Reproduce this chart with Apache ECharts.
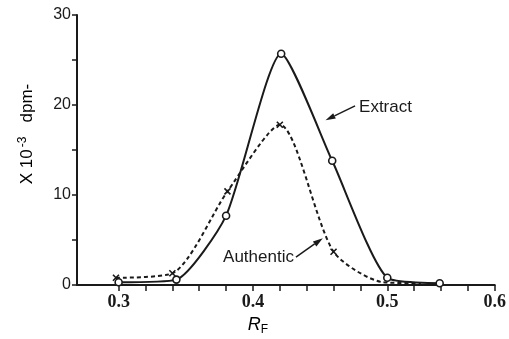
<!DOCTYPE html>
<html><head><meta charset="utf-8">
<script src="https://cdn.jsdelivr.net/npm/echarts@6/dist/echarts.min.js"></script>
<style>html,body{margin:0;padding:0;background:#fff}#c{width:509px;height:339px}</style>
</head><body><div id="c"></div>
<script>
// Data
const extractX = [0.300, 0.343, 0.380, 0.421, 0.459, 0.500, 0.539];
const extractY = [0.3, 0.6, 7.7, 25.7, 13.8, 0.8, 0.2];
const authenticX = [0.298, 0.340, 0.381, 0.420, 0.460, 0.497, 0.525];
const authenticY = [0.8, 1.3, 10.4, 17.8, 3.7, 0.3, 0.2];
const authenticMarked = [true, true, true, true, true, false, false];
const yTicksMajor = [0, 10, 20, 30];
const yTicksMinor = [0, 5, 10, 15, 20, 25, 30];
const xTickPositions = [0.30,0.32,0.34,0.36,0.38,0.40,0.42,0.44,0.46,0.48,0.50,0.52,0.54,0.56,0.58];
const xLabelPositions = [0.30, 0.40, 0.50, 0.58];
const xLabelTexts = ["0.3", "0.4", "0.5", "0.6"];
const ink = '#1a1a1a';

const crossPath = 'path://M0,0L10,10M10,0L0,10';
const chart = echarts.init(document.getElementById('c'), null, {renderer: 'canvas'});
const option = {
  backgroundColor: '#fff',
  animation: false,
  grid: {left: 77, top: 15, right: 12, bottom: 54},
  xAxis: {
    type: 'value', min: 0.269, max: 0.58,
    axisLine: {lineStyle: {color: ink, width: 2}},
    axisTick: {show: true, customValues: xTickPositions, length: 6, inside: false, lineStyle: {color: ink, width: 1.5}},
    axisLabel: {customValues: xLabelPositions, margin: 8, color: ink, fontFamily: 'Liberation Serif', fontWeight: 'bold', fontSize: 18,
      formatter: function (v) { const i = xLabelPositions.findIndex(p => Math.abs(p - v) < 1e-6); return i >= 0 ? xLabelTexts[i] : ''; }},
    splitLine: {show: false}
  },
  yAxis: {
    type: 'value', min: 0, max: 30,
    axisLine: {show: true, lineStyle: {color: ink, width: 2}},
    axisTick: {show: true, customValues: yTicksMinor, length: 5, lineStyle: {color: ink, width: 1.5}},
    axisLabel: {customValues: yTicksMajor, margin: 6, color: ink, fontFamily: 'Liberation Sans', fontSize: 16},
    splitLine: {show: false}
  },
  series: [
    {
      name: 'Extract', type: 'line', smooth: 0.2,
      data: extractX.map((x, i) => [x, extractY[i]]),
      symbol: 'circle', symbolSize: 7,
      itemStyle: {color: '#fff', borderColor: ink, borderWidth: 1.6},
      lineStyle: {color: ink, width: 2},
      z: 3
    },
    {
      name: 'Authentic', type: 'line', smooth: 0.25,
      data: authenticX.map((x, i) => ({value: [x, authenticY[i]], symbol: authenticMarked[i] ? crossPath : 'none'})),
      symbolSize: 6,
      itemStyle: {color: 'none', borderColor: ink, borderWidth: 1.6},
      lineStyle: {color: ink, width: 2, type: [4, 3]},
      z: 2
    }
  ]
};
chart.setOption(option);

function px(x, y) { return chart.convertToPixel({gridIndex: 0}, [x, y]); }
const eA0 = px(0.476, 19.9), eA1 = px(0.454, 18.3);
const aA0 = px(0.432, 3.1), aA1 = px(0.452, 5.2);
function arrow(p0, p1) {
  const ang = Math.atan2(p1[1] - p0[1], p1[0] - p0[0]);
  const L = 10, W = 3;
  const bx = p1[0] - L * Math.cos(ang), by = p1[1] - L * Math.sin(ang);
  const nx = -Math.sin(ang) * W, ny = Math.cos(ang) * W;
  return [
    {type: 'line', shape: {x1: p0[0], y1: p0[1], x2: bx, y2: by}, style: {stroke: ink, lineWidth: 1.5}},
    {type: 'polygon', shape: {points: [[p1[0], p1[1]], [bx + nx, by + ny], [bx - nx, by - ny]]}, style: {fill: ink}}
  ];
}
chart.setOption({
  graphic: [
    ...arrow(eA0, eA1),
    ...arrow(aA0, aA1),
    {type: 'text', x: eA0[0] + 4, y: eA0[1] + 1, style: {text: 'Extract', fill: ink, font: '17px "Liberation Sans"', textVerticalAlign: 'middle'}},
    {type: 'text', x: aA0[0] - 2, y: aA0[1], style: {text: 'Authentic', fill: ink, font: '17px "Liberation Sans"', textAlign: 'right', textVerticalAlign: 'middle'}},
    {type: 'text', x: 27, y: 134, rotation: Math.PI / 2,
      style: {text: '{a|X 10}{s|-3}{a|   dpm-}', align: 'center', verticalAlign: 'middle',
        rich: {a: {fontSize: 17, fontFamily: 'Liberation Sans', color: ink}, s: {fontSize: 12, fontFamily: 'Liberation Sans', color: ink, verticalAlign: 'top', padding: [0, 0, 9, 2]}}}},
    {type: 'text', x: 258, y: 325, style: {text: '{r|R}{f|F}', align: 'center', verticalAlign: 'middle',
      rich: {r: {fontSize: 18, fontFamily: 'Liberation Sans', fontStyle: 'italic', color: ink}, f: {fontSize: 12, fontFamily: 'Liberation Sans', color: ink, padding: [9, 0, 0, 0]}}}}
  ]
});
</script></body></html>
